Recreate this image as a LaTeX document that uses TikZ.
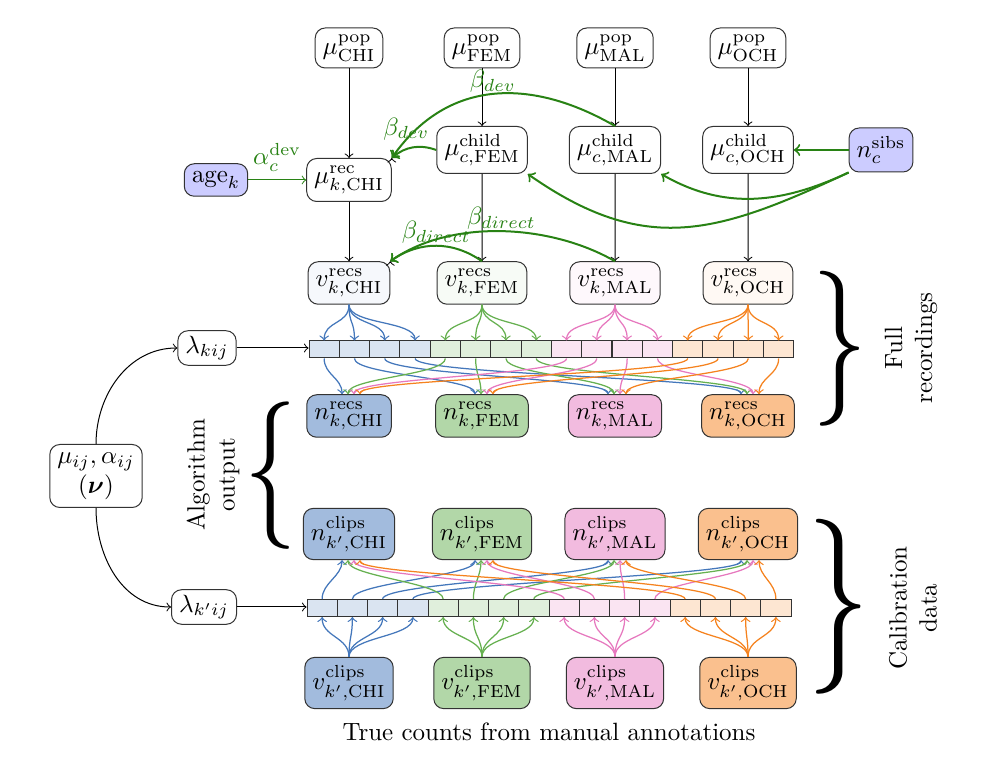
\documentclass[tikz,border=0pt]{standalone}
\usepackage{amsmath}
\usepackage{amsfonts}
\usepackage{graphicx}
\usepackage{tikz}
\usetikzlibrary{positioning}

\definecolor{chicol}{RGB}{68,119,187}
\definecolor{femcol}{RGB}{102,176,80}
\definecolor{malcol}{RGB}{230,120,190}
\definecolor{ochcol}{RGB}{245,130,30}
\definecolor{effcol}{RGB}{40,130,20}

\tikzset{
	var/.style={draw=black!80, rounded corners=4pt, fill=white, inner xsep=3pt, inner ysep=2pt, minimum height=16pt},
	obs/.style={var, fill=blue!20},
	recbox/.style={var, minimum width=31.5pt, minimum height=17pt},
	clipbox/.style={var, minimum width=34.5pt, minimum height=20.5pt},
	cell/.style={draw=black!80, minimum width=12.1pt, minimum height=6.8pt, inner sep=0pt},
	eff/.style={->, effcol, thick},
	flow/.style={->, line width=0.5pt},
}

\begin{document}
\begin{tikzpicture}[x=0.4pt, y=-0.4pt, node distance=53.2pt, on grid, >=to]
			\useasboundingbox (0,0) rectangle (1006,764);

			% population level
			\node[var] (popCHI) at (349,48)		{$\mu^{\mathrm{pop}}_{\mathrm{CHI}}$};
			\node[var] (popFEM) [right of=popCHI]	{$\mu^{\mathrm{pop}}_{\mathrm{FEM}}$};
			\node[var] (popMAL) [right of=popFEM]	{$\mu^{\mathrm{pop}}_{\mathrm{MAL}}$};
			\node[var] (popOCH) [right of=popMAL]	{$\mu^{\mathrm{pop}}_{\mathrm{OCH}}$};

			% child level
			\node[var, minimum height=18.8pt] (chFEM) [below of=popFEM, node distance=40.8pt] {$\mu^{\mathrm{child}}_{c,\mathrm{FEM}}$};
			\node[var, minimum height=18.8pt] (chMAL) [right of=chFEM] {$\mu^{\mathrm{child}}_{c,\mathrm{MAL}}$};
			\node[var, minimum height=18.8pt] (chOCH) [right of=chMAL] {$\mu^{\mathrm{child}}_{c,\mathrm{OCH}}$};
			\node[var, minimum height=17.2pt] (recCHI) at (349,180) {$\mu^{\mathrm{rec}}_{k,\mathrm{CHI}}$};
			\node[obs, minimum height=13pt] (age) [left of=recCHI] {$\mathrm{age}_k$};
			\node[obs, minimum height=17.6pt] (sibs) [right of=chOCH] {$n^{\mathrm{sibs}}_c$};

			\path[->]
				(popCHI) edge (recCHI)
				(popFEM) edge (chFEM)
				(popMAL) edge (chMAL)
				(popOCH) edge (chOCH);

			% recordings, counts and clips
			\foreach \name/\col [count=\i from 0] in {CHI/chicol, FEM/femcol, MAL/malcol, OCH/ochcol} {
				\node[recbox, fill=\col!5] (vr\name) at ({349+133*\i},283) {$v^{\mathrm{recs}}_{k,\mathrm{\name}}$};
				\node[recbox, fill=\col!50] (nr\name) at ({349+133*\i},416) {$n^{\mathrm{recs}}_{k,\mathrm{\name}}$};
				\node[clipbox, fill=\col!50] (nc\name) at ({349+133*\i},534) {$n^{\mathrm{clips}}_{k',\mathrm{\name}}$};
				\node[clipbox, fill=\col!50] (vc\name) at ({349+133*\i},683) {$v^{\mathrm{clips}}_{k',\mathrm{\name}}$};
				\foreach \j in {0,...,3} {
					\node[cell, fill=\col!20] (rc\i\j) at ({309+30.3*(4*\i+\j+0.5)},349.5) {};
					\node[cell, fill=\col!20] (cc\i\j) at ({307+30.25*(4*\i+\j+0.5)},608) {};
				}
			}

			\path[->]
				(recCHI) edge (vrCHI)
				(chFEM) edge (vrFEM)
				(chMAL) edge (vrMAL)
				(chOCH) edge (vrOCH);

			% covariate effects
			\draw[eff, thin] (age) -- node[above=0pt] {$\alpha^{\mathrm{dev}}_c$} (recCHI);
			\draw[eff] (sibs) -- (chOCH);
			\draw[eff] (sibs.south west) to[out=205, in=-30] (chMAL.south east);
			\draw[eff] (sibs.south west) to[out=205, in=-35, looseness=1.15] (chFEM.south east);
			\draw[eff] (chFEM.west) to[bend right=30] node[pos=0.65, above=0pt] {$\beta_{dev}$} (recCHI.north east);
			\draw[eff] (chMAL.north) to[out=150, in=55, looseness=1.1] node[pos=0.5, above=-3pt] {$\beta_{dev}$} (recCHI.north east);
			\draw[eff] (vrFEM.north) to[bend right=35] node[pos=0.5, above=-2.8pt] {$\beta_{direct}$} (vrCHI.north east);
			\draw[eff] (vrMAL.north) to[out=150, in=35, looseness=0.85] node[pos=0.5, above=-3pt] {$\beta_{direct}$} (vrCHI.north east);
			\draw[->] ([yshift=-0.5pt]recCHI.north east) -- (recCHI.north east);
			\draw[->] ([yshift=-0.5pt]vrCHI.north east) -- (vrCHI.north east);

			% detection rates
			\node[var, align=center, minimum width=35.6pt, minimum height=25.2pt] (mu) at (96,476) {$\mu_{ij}, \alpha_{ij}$\\$(\boldsymbol{\nu})$};
			\node[var, minimum height=12.4pt] (lamrec) at (207,348) {$\lambda_{kij}$};
			\node[var, minimum height=12.4pt] (lamclip) at (204,607) {$\lambda_{k'ij}$};
			\draw[->] (mu) to[out=90, in=180] (lamrec);
			\draw[->] (mu) to[out=-90, in=180] (lamclip);
			\draw[->] (lamrec.east) -- (lamrec.east -| rc00.west);
			\draw[->] (lamclip.east) -- (lamclip.east -| cc00.west);

			% confusion between classes
			\foreach \g/\src/\col [evaluate=\g as \dx using 2.4*\g-2.8] in {0/CHI/chicol, 1/FEM/femcol, 2/MAL/malcol, 3/OCH/ochcol}
				\foreach \j/\tgt in {0/CHI, 1/FEM, 2/MAL, 3/OCH} {
					\draw[flow, \col] (vr\src.south) to[out=-90, in=90, distance=8pt] (rc\g\j.north);
					\draw[flow, \col] (rc\g\j.south) to[out=-90, in=90, distance=6.5pt] ([xshift=\dx pt]nr\tgt.north);
					\draw[flow, \col] (vc\src.north) to[out=90, in=-90, distance=8pt] (cc\g\j.south);
					\draw[flow, \col] (cc\g\j.north) to[out=90, in=-90, distance=6.5pt] ([xshift=\dx pt]nc\tgt.south);
				}

			% braces and captions
			\node (bfull) at (840,349) {\resizebox*{22pt}{62pt}{$\}$}};
			\node[rotate=90, align=center] (tfull) at (911,348) {Full\\recordings};
			\node (balgo) at (271,476) {\resizebox*{21pt}{59pt}{$\{$}};
			\node[rotate=90, align=center] (talgo) at (213,475) {Algorithm\\output};
			\node (bcalib) at (839,607) {\resizebox*{25pt}{70pt}{$\}$}};
			\node[rotate=90, align=center] (tcalib) at (913,608) {Calibration\\data};
			\node (caption) at (549,732) {True counts from manual annotations};
		\end{tikzpicture}
\end{document}
